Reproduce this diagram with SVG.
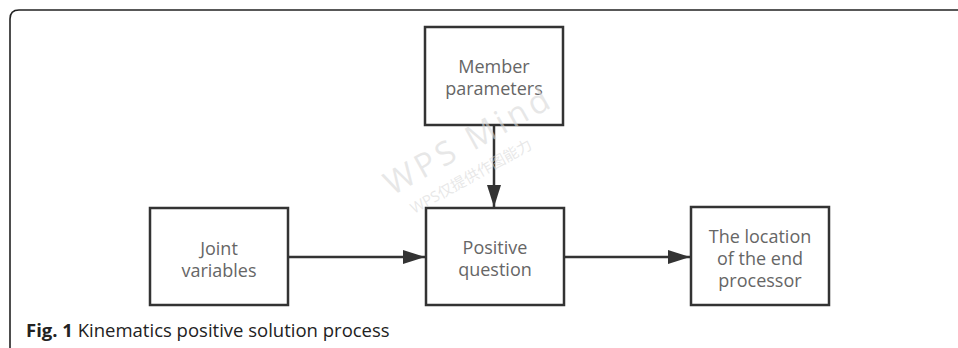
<svg xmlns="http://www.w3.org/2000/svg" width="958" height="348" viewBox="0 0 958 348">
<style>
.box{fill:#fff;stroke:#333;stroke-width:2.5}
.lbl{font-family:"Open Sans","Noto Sans",sans-serif;font-size:18px;fill:#666;text-anchor:middle}
.edge{stroke:#333;stroke-width:2.5;fill:none}
.wm{font-family:"Open Sans","Noto Sans CJK SC",sans-serif;fill:#d8d8d8;fill-opacity:0.6}
.cap{font-family:"Open Sans","Noto Sans",sans-serif;font-size:18.5px;fill:#222}
</style>
<defs>
<marker id="arr" viewBox="0 0 10 10" refX="10" refY="5" markerWidth="22" markerHeight="14" markerUnits="userSpaceOnUse" orient="auto" preserveAspectRatio="none">
<path d="M0,0 L10,5 L0,10 Z" fill="#333"/>
</marker>
</defs>
<path d="M10,360 L10,19 Q10,10 19,10 L960,10" fill="none" stroke="#222" stroke-width="1.6"/>
<g id="connectors">
<line class="edge" x1="494" y1="125" x2="494" y2="207" marker-end="url(#arr)"/>
<line class="edge" x1="288" y1="257" x2="425" y2="257" marker-end="url(#arr)"/>
<line class="edge" x1="564" y1="257" x2="690" y2="257" marker-end="url(#arr)"/>
</g>
<g id="member">
<rect class="box" x="425" y="27" width="138" height="98"/>
<text class="lbl" x="494" y="73">Member</text>
<text class="lbl" x="494" y="95">parameters</text>
</g>
<g id="joint">
<rect class="box" x="150" y="208" width="138" height="97"/>
<text class="lbl" x="219" y="255">Joint</text>
<text class="lbl" x="219" y="277">variables</text>
</g>
<g id="positive">
<rect class="box" x="426" y="208" width="138" height="97"/>
<text class="lbl" x="495" y="254">Positive</text>
<text class="lbl" x="495" y="276">question</text>
</g>
<g id="location">
<rect class="box" x="691" y="207" width="138" height="98"/>
<text class="lbl" x="760" y="243">The location</text>
<text class="lbl" x="760" y="265">of the end</text>
<text class="lbl" x="760" y="287">processor</text>
</g>
<g id="watermark">
<text class="wm" x="392" y="196" font-size="33" letter-spacing="4" transform="rotate(-29 392 196)">WPS Mind</text>
<text class="wm" x="414" y="214" font-size="15" transform="rotate(-29 414 214)">WPS仅提供作图能力</text>
</g>
<text class="cap" x="26" y="337"><tspan font-weight="bold">Fig. 1</tspan> Kinematics positive solution process</text>
</svg>
